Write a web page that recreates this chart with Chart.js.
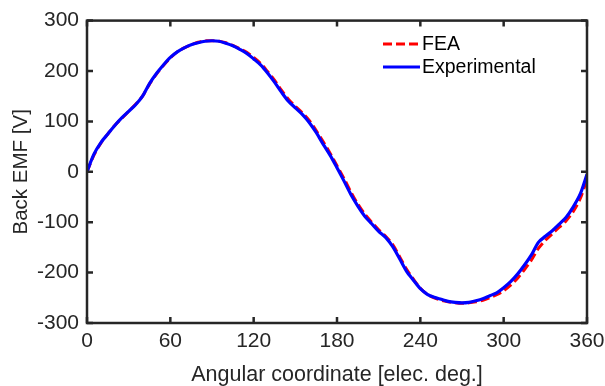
<!DOCTYPE html>
<html>
<head>
<meta charset="utf-8">
<script src="https://cdn.jsdelivr.net/npm/chart.js@4/dist/chart.umd.min.js"></script>
<style>
  html, body { margin: 0; padding: 0; background: #fff; }
  #wrap { width: 605px; height: 386px; }
</style>
</head>
<body>
<div id="wrap"><canvas id="c" width="605" height="386"></canvas></div>
<script>
const angles = [0,5,10,15,20,25,30,35,40,45,50,55,60,65,70,75,80,85,90,95,100,105,110,115,120,125,130,135,140,145,150,155,160,165,170,175,180,185,190,195,200,205,210,215,220,225,230,235,240,245,250,255,260,265,270,275,280,285,290,295,300,305,310,315,320,325,330,335,340,345,350,355,360];
const experimental = [0,35,58,75,92,107,120,133,150,175,195,212,227,238,246,252,256,259,260,259,255,250,243,235,224,212,196,178,158,140,127,114,98,78,55,33,8,-18,-45,-68,-88,-103,-118,-130,-148,-172,-197,-215,-232,-243,-249,-253,-257,-259,-260,-259,-256,-252,-246,-240,-230,-218,-203,-185,-165,-140,-128,-117,-104,-90,-70,-45,-5];
const fea = [0,33,57,75,92,106,120,134,150,174,194,211,226,238,246,252,257,260,260,259,256,251,244,237,227,215,199,182,162,144,130,117,102,82,60,37,12,-13,-40,-64,-84,-100,-115,-128,-144,-168,-193,-213,-231,-243,-250,-255,-258,-260,-261,-260,-258,-255,-250,-244,-236,-225,-211,-194,-175,-152,-136,-123,-110,-97,-79,-54,-15];
const xTicks = [0,60,120,180,240,300,360];
const yTicks = [-300,-200,-100,0,100,200,300];
const seriesNames = ['FEA','Experimental'];

const AX = '#262626';
const FONT = '"Liberation Sans", Arial, Helvetica, sans-serif';

const boxPlugin = {
  id: 'boxPlugin',
  afterDraw(chart) {
    const ctx = chart.ctx;
    const a = chart.chartArea;
    const xs = chart.scales.x, ys = chart.scales.y;
    ctx.save();
    ctx.strokeStyle = AX;
    ctx.lineWidth = 2.5;
    ctx.lineCap = 'butt';
    const tl = 6;
    ctx.beginPath();
    xTicks.forEach(v => {
      const px = xs.getPixelForValue(v);
      ctx.moveTo(px, a.bottom); ctx.lineTo(px, a.bottom - tl);
      ctx.moveTo(px, a.top); ctx.lineTo(px, a.top + tl);
    });
    yTicks.forEach(v => {
      const py = ys.getPixelForValue(v);
      ctx.moveTo(a.left, py); ctx.lineTo(a.left + tl, py);
      ctx.moveTo(a.right, py); ctx.lineTo(a.right - tl, py);
    });
    ctx.stroke();
    ctx.strokeRect(a.left, a.top, a.right - a.left, a.bottom - a.top);

    // legend
    const ds = chart.data.datasets;
    const lx0 = 383, lx1 = 420, tx = 422;
    const ly = [44, 67];
    ctx.font = '19.5px ' + FONT;
    ctx.textBaseline = 'middle';
    ctx.textAlign = 'left';
    ds.forEach((d, i) => {
      ctx.beginPath();
      ctx.strokeStyle = d.borderColor;
      ctx.lineWidth = d.borderWidth;
      ctx.setLineDash(d.borderDash || []);
      ctx.moveTo(lx0, ly[i]); ctx.lineTo(lx1, ly[i]);
      ctx.stroke();
      ctx.setLineDash([]);
      ctx.fillStyle = '#000';
      ctx.fillText(d.label, tx, ly[i] + 1);
    });
    ctx.restore();
  }
};

const toPts = (vals) => angles.map((x, i) => ({x, y: vals[i]}));

new Chart(document.getElementById('c'), {
  type: 'line',
  data: {
    datasets: [
      { label: seriesNames[0], data: toPts(fea), borderColor: '#ff0000', borderWidth: 3, borderDash: [9,4], pointRadius: 0, tension: 0.3, order: 2, fill: false },
      { label: seriesNames[1], data: toPts(experimental), borderColor: '#0000ff', borderWidth: 3.2, pointRadius: 0, tension: 0.3, order: 1, fill: false }
    ]
  },
  options: {
    responsive: false,
    animation: false,
    devicePixelRatio: 1,
    layout: { padding: { top: 17, right: 0, left: 0, bottom: 0 } },
    plugins: { legend: { display: false }, tooltip: { enabled: false } },
    scales: {
      x: {
        type: 'linear', min: 0, max: 360,
        afterBuildTicks: s => { s.ticks = xTicks.map(v => ({value: v})); },
        afterFit: s => { s.height = 63; s.paddingRight = 18; s.paddingLeft = 0; },
        grid: { display: false, drawTicks: false },
        border: { display: false },
        ticks: { color: AX, font: { family: FONT, size: 21 }, padding: 6, maxRotation: 0 },
        title: { display: true, text: 'Angular coordinate [elec. deg.]', color: AX, font: { family: FONT, size: 21.5 }, padding: { top: 0, bottom: -2 } }
      },
      y: {
        type: 'linear', min: -300, max: 300,
        afterBuildTicks: s => { s.ticks = yTicks.map(v => ({value: v})); },
        afterFit: s => { s.width = 87; },
        grid: { display: false, drawTicks: false },
        border: { display: false },
        ticks: { color: AX, font: { family: FONT, size: 21 }, padding: 8 },
        title: { display: true, text: 'Back EMF [V]', color: AX, font: { family: FONT, size: 20.5 }, padding: { top: 9, bottom: 0 } }
      }
    }
  },
  plugins: [boxPlugin]
});
</script>
</body>
</html>
